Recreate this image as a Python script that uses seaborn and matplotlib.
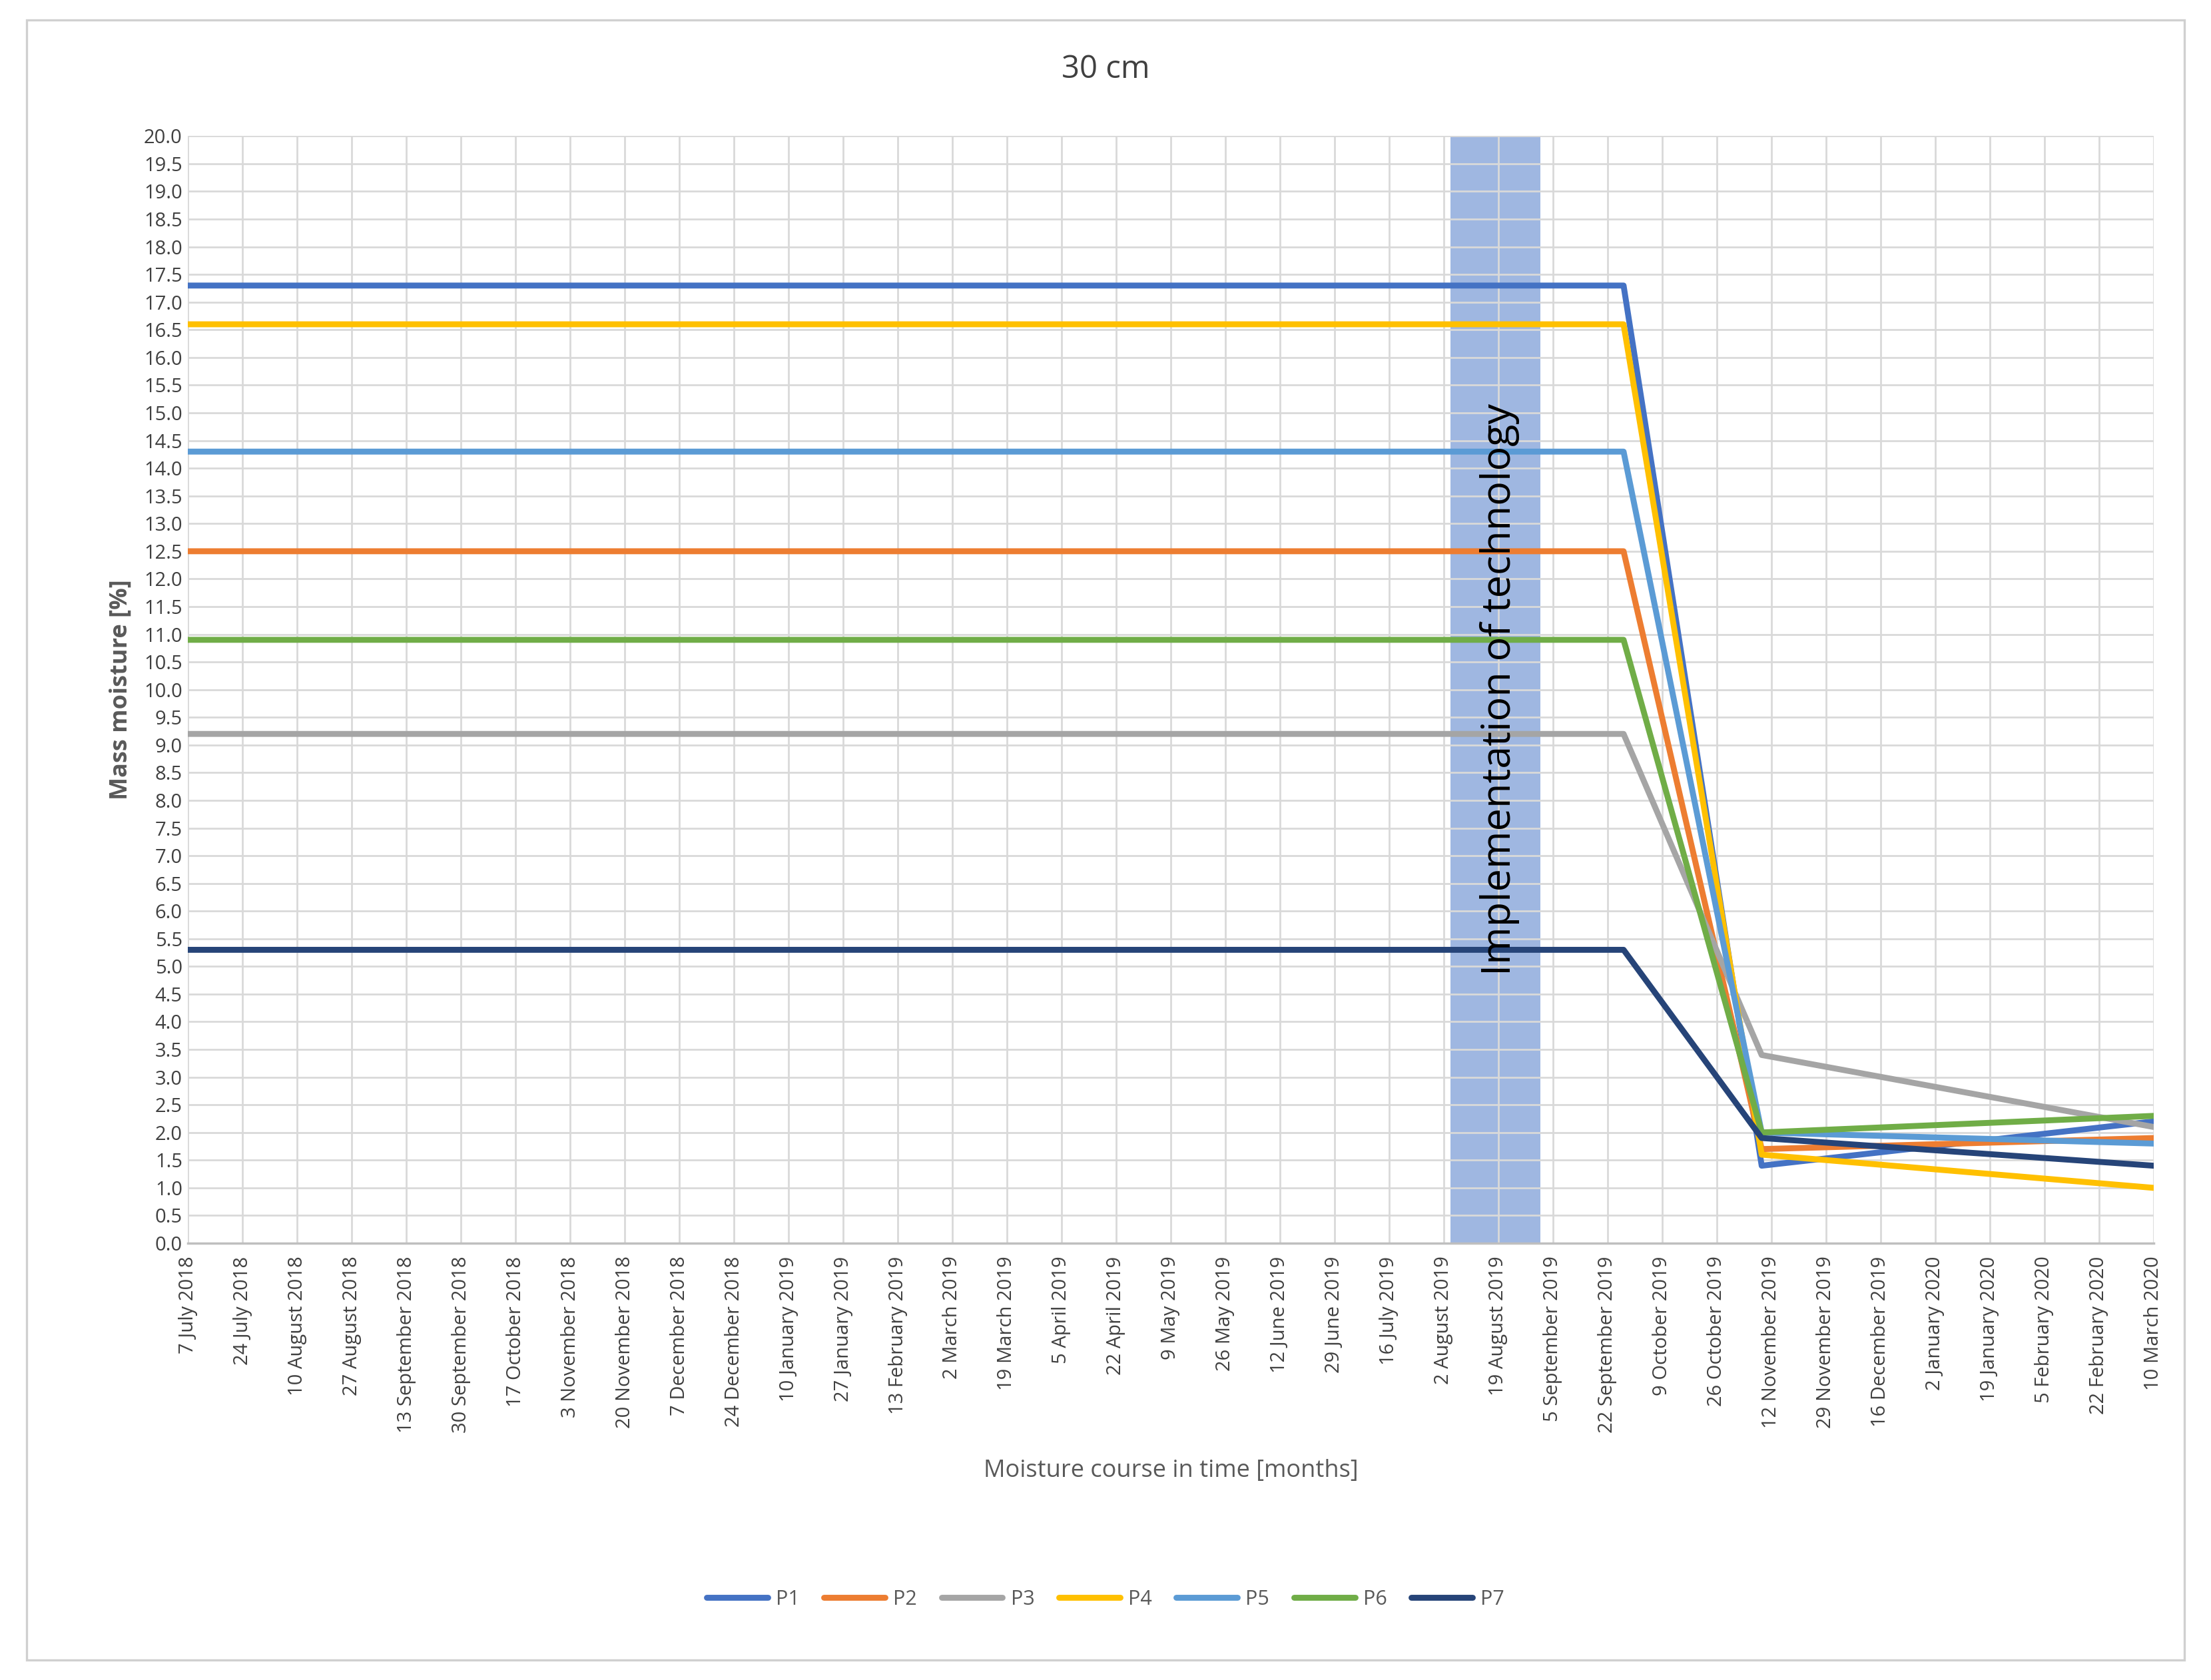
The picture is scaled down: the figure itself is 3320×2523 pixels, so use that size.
import matplotlib
matplotlib.use("Agg")
import matplotlib.pyplot as plt
import seaborn as sns
import pandas as pd
import numpy as np
from matplotlib.patches import Rectangle

sns.set_theme(style="whitegrid")
plt.rcParams['font.family'] = ['Open Sans', 'DejaVu Sans']

dates = ["2018-07-07", "2019-09-27", "2019-11-09", "2020-03-10"]
series = {
    "P1": [17.3, 17.3, 1.4, 2.2],
    "P2": [12.5, 12.5, 1.7, 1.9],
    "P3": [9.2, 9.2, 3.4, 2.1],
    "P4": [16.6, 16.6, 1.6, 1.0],
    "P5": [14.3, 14.3, 2.0, 1.8],
    "P6": [10.9, 10.9, 2.0, 2.3],
    "P7": [5.3, 5.3, 1.9, 1.4],
}
colors = ["#4472C4", "#ED7D31", "#A5A5A5", "#FFC000", "#5B9BD5", "#70AD47", "#264478"]
band = ("2019-08-04", "2019-09-01")

start = pd.Timestamp("2018-07-07")
rows = []
for name, vals in series.items():
    for d, v in zip(dates, vals):
        rows.append({"day": (pd.Timestamp(d) - start).days, "value": v, "series": name})
df = pd.DataFrame(rows)

fig = plt.figure(figsize=(16.6, 12.615), dpi=200)
ax = fig.add_axes([0.085, 0.26, 0.889, 0.659])
fig.patches.append(Rectangle((0.012, 0.012), 0.976, 0.976, transform=fig.transFigure,
                             fill=False, edgecolor="#D0D0D0", linewidth=1.2))

sns.lineplot(data=df, x="day", y="value", hue="series", palette=colors, linewidth=3.2, ax=ax)

b0 = (pd.Timestamp(band[0]) - start).days
b1 = (pd.Timestamp(band[1]) - start).days
ax.axvspan(b0, b1, color="#7F9FD8", alpha=0.75, zorder=0.5, lw=0)
ax.text((b0 + b1) / 2 + 1.5, 10.0, "Implementation of technology", rotation=90, ha="center", va="center",
        fontsize=22, color="black")

ticks = np.arange(0, 613, 17)
labels = [(start + pd.Timedelta(days=int(t))).strftime("%-d %B %Y") for t in ticks]
ax.set_xticks(ticks)
ax.set_xticklabels(labels, rotation=90, fontsize=10.5, color="#404040")
ax.set_xlim(0, 612)
ax.set_ylim(0, 20)
ax.set_yticks(np.arange(0, 20.01, 0.5))
ax.set_yticklabels([f"{v:.1f}" for v in np.arange(0, 20.01, 0.5)], fontsize=10.5, color="#404040")
ax.grid(True, color="#D9D9D9", linewidth=1)
for s in ax.spines.values():
    s.set_visible(False)
ax.spines['bottom'].set_visible(True)
ax.spines['bottom'].set_color("#BFBFBF")
ax.tick_params(axis='x', length=5, color="#BFBFBF", pad=2)
ax.tick_params(axis='y', length=0, pad=3)
ax.set_xlabel("Moisture course in time [months]", fontsize=13, color="#595959", labelpad=14)
ax.set_ylabel("Mass moisture [%]", fontsize=13, fontweight="bold", color="#595959", labelpad=6)
fig.suptitle("30 cm", fontsize=17, color="#404040", x=0.5, y=0.968)

h, l = ax.get_legend_handles_labels()
ax.legend_.remove()
fig.legend(h, l, loc="center", bbox_to_anchor=(0.5, 0.048), ncol=7, frameon=False,
           fontsize=11, handlelength=3, columnspacing=1.2, handletextpad=0.4)
for t in fig.legends[0].get_texts():
    t.set_color("#595959")

fig.savefig("out.png", dpi=200)
